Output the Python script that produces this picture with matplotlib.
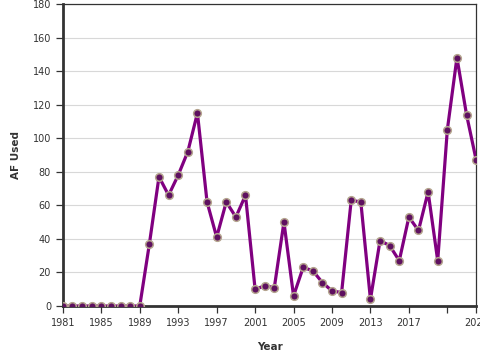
import matplotlib
matplotlib.use("Agg")
import matplotlib.pyplot as plt

years = list(range(1981, 2025))
af_used = [0, 0, 0, 0, 0, 0, 0, 0, 0, 37, 77, 66, 78, 92, 115, 62, 41, 62, 53, 66,
           10, 12, 11, 50, 6, 23, 21, 14, 9, 8, 63, 62, 4, 39, 36, 27, 53, 45, 68, 27,
           105, 148, 114, 87]
xticks = [1981, 1985, 1989, 1993, 1997, 2001, 2005, 2009, 2013, 2017, 2021, 2024]
xtick_labels = ["1981", "1985", "1989", "1993", "1997", "2001", "2005", "2009",
                "2013", "2017", "", "2024"]
yticks = list(range(0, 181, 20))

fig = plt.figure(figsize=(4.8, 3.6), dpi=100)
ax = fig.add_axes([0.131, 0.15, 0.861, 0.839])

ax.plot(years, af_used, color="#800080", lw=2.3, marker="o", markersize=5.5,
        markerfacecolor="#5e1060", markeredgecolor="#b4a48e", markeredgewidth=1.1,
        zorder=3)

ax.set_xlim(1981, 2024)
ax.set_ylim(0, 180)
ax.set_xticks(xticks)
ax.set_xticklabels(xtick_labels)
ax.set_yticks(yticks)
ax.grid(axis="y", color="#d8d8d8", lw=0.8)
ax.set_axisbelow(True)

for s in ["top", "right"]:
    ax.spines[s].set_linewidth(0.9)
    ax.spines[s].set_color("#333333")
for s in ["left", "bottom"]:
    ax.spines[s].set_linewidth(2.0)
    ax.spines[s].set_color("#333333")

ax.tick_params(labelsize=7, colors="#333333", length=5, width=0.9)
ax.set_xlabel("Year", fontsize=7.5, fontweight="bold", color="#333333", labelpad=10)
ax.set_ylabel("AF Used", fontsize=7.5, fontweight="bold", color="#333333", labelpad=8)
for lbl in ax.get_xticklabels() + ax.get_yticklabels():
    lbl.set_clip_on(False)

fig.savefig("out.png", dpi=100)
